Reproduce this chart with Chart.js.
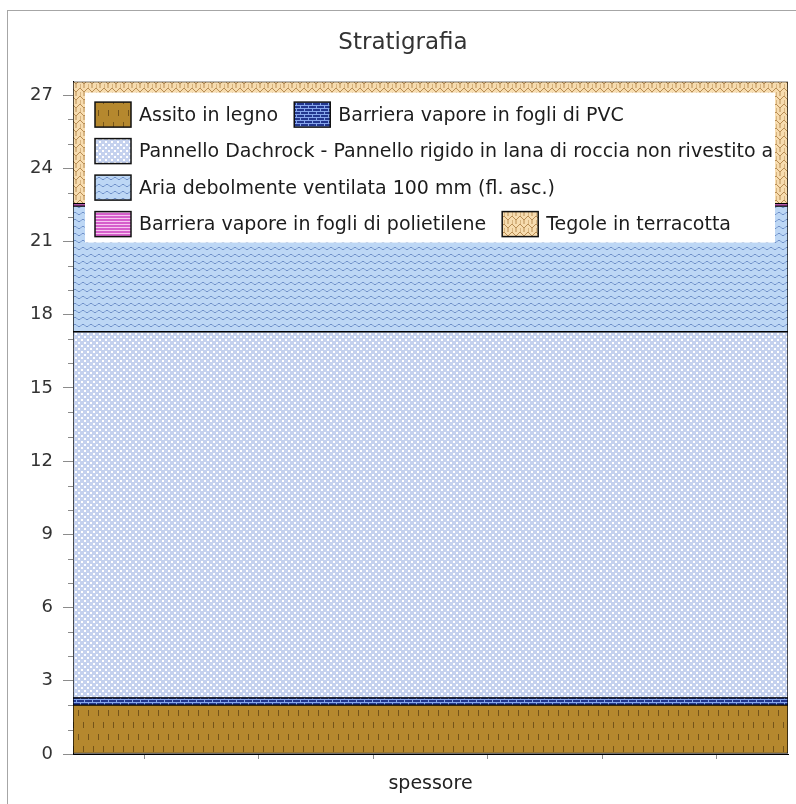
<!DOCTYPE html>
<html>
<head>
<meta charset="utf-8">
<script src="https://cdn.jsdelivr.net/npm/chart.js@4.4.1/dist/chart.umd.min.js"></script>
<style>
html,body{margin:0;padding:0;background:#fff;overflow:hidden;}
#wrap{position:relative;width:796px;height:804px;overflow:hidden;}
#frame{position:absolute;left:7px;top:10px;width:820px;height:820px;border:1px solid #a6a6a6;box-sizing:border-box;pointer-events:none;}
canvas{position:absolute;left:0;top:0;}
</style>
</head>
<body>
<div id="wrap"><canvas id="c" width="796" height="804"></canvas><div id="frame"></div></div>
<script>
// ---- data ----
const categories = ['spessore'];
const layerNames = [
  'Assito in legno',
  'Barriera vapore in fogli di PVC',
  'Pannello Dachrock - Pannello rigido in lana di roccia non rivestito a',
  'Aria debolmente ventilata 100 mm (fl. asc.)',
  'Barriera vapore in fogli di polietilene',
  'Tegole in terracotta'
];
const layerThickness = [2.0, 0.3, 15.0, 5.15, 0.1, 5.0];
const yTickStep = 3;
const xMarkValues = [0.5, 1.5, 2.5, 3.5, 4.5];
const chartTitle = 'Stratigrafia';

// ---- patterns ----
function makePattern(w, h, draw) {
  const c = document.createElement('canvas');
  c.width = w; c.height = h;
  const g = c.getContext('2d');
  draw(g, w, h);
  return g.createPattern(c, 'repeat');
}
const patAssito = makePattern(10, 24, (g, w, h) => {
  g.fillStyle = '#B5882E'; g.fillRect(0, 0, w, h);
  g.fillStyle = '#74541A';
  g.fillRect(3, 2, 1, 6);
  g.fillRect(8, 14, 1, 6);
});
const patPVC = makePattern(8, 6, (g, w, h) => {
  g.fillStyle = '#23378F'; g.fillRect(0, 0, w, h);
  g.fillStyle = '#86A6EC';
  g.fillRect(0, 0, w, 1);
  g.fillRect(0, 3, w, 1);
  g.fillRect(0, 0, 1, 3);
  g.fillRect(4, 3, 1, 3);
});
const patDachrock = makePattern(6, 6, (g, w, h) => {
  g.fillStyle = '#C4D1EE'; g.fillRect(0, 0, w, h);
  g.fillStyle = '#FFFFFF';
  g.fillRect(0, 0, 2, 2);
  g.fillRect(3, 3, 2, 2);
});
const patAria = makePattern(8, 7, (g, w, h) => {
  g.fillStyle = '#BDD7F5'; g.fillRect(0, 0, w, h);
  g.strokeStyle = '#6E8FC8'; g.lineWidth = 1;
  g.beginPath();
  g.moveTo(0, 4.5); g.lineTo(2, 2.5); g.lineTo(4, 2.5); g.lineTo(6, 4.5); g.lineTo(8, 4.5);
  g.stroke();
});
const patPoli = makePattern(4, 3, (g, w, h) => {
  g.fillStyle = '#D65FCB'; g.fillRect(0, 0, w, h);
  g.fillStyle = '#F6C8F1'; g.fillRect(0, 2, w, 1);
});
const patTegole = makePattern(8, 8, (g, w, h) => {
  g.fillStyle = '#F7DCAF'; g.fillRect(0, 0, w, h);
  g.strokeStyle = '#B98E55'; g.lineWidth = 1;
  g.beginPath();
  g.moveTo(0, 0); g.lineTo(4, 4); g.lineTo(8, 0);
  g.moveTo(4, 4); g.lineTo(4, 8);
  g.moveTo(0, 4); g.lineTo(0, 8);
  g.stroke();
});
const layerFills = [patAssito, patPVC, patDachrock, patAria, patPoli, patTegole];

const total = layerThickness.reduce((a, b) => a + b, 0);

// ---- plugins ----
const boxLegend = {
  id: 'boxLegend',
  afterDatasetsDraw(chart) {
    const ctx = chart.ctx, a = chart.chartArea;
    const bx = a.left + 12, by = a.top + 11, bw = (a.right - 13) - bx;
    const sw = 36, sh = 25, gapT = 8, gapI = 16, rowH = 36.5, first = 22;
    ctx.save();
    ctx.font = '19px "DejaVu Sans"';
    let x = bx + 10, row = 0;
    const items = [];
    chart.data.datasets.forEach(ds => {
      const w = sw + gapT + ctx.measureText(ds.label).width;
      if (x > bx + 10 && x + w > bx + bw) { row++; x = bx + 10; }
      items.push({ ds, x, row });
      x += w + gapI;
    });
    const bh = first + row * rowH + 18.5;
    ctx.fillStyle = '#ffffff';
    ctx.fillRect(bx, by, bw, bh);
    ctx.beginPath(); ctx.rect(bx, by, bw, bh); ctx.clip();
    items.forEach(it => {
      const cy = by + first + it.row * rowH;
      ctx.fillStyle = it.ds.backgroundColor;
      ctx.fillRect(it.x, cy - sh / 2, sw, sh);
      ctx.lineWidth = 1.5; ctx.strokeStyle = '#111';
      ctx.strokeRect(it.x, cy - sh / 2, sw, sh);
      ctx.fillStyle = '#1c1c1c';
      ctx.textBaseline = 'middle'; ctx.textAlign = 'left';
      ctx.fillText(it.ds.label, it.x + sw + gapT, cy + 1);
    });
    ctx.restore();
  }
};
const minorTicks = {
  id: 'minorTicks',
  afterDraw(chart) {
    const y = chart.scales.y, ctx = chart.ctx, left = chart.chartArea.left;
    ctx.save();
    ctx.strokeStyle = '#8c8c8c'; ctx.lineWidth = 1;
    for (let v = Math.ceil(y.min); v <= y.max; v++) {
      if (v % yTickStep === 0) continue;
      const py = Math.round(y.getPixelForValue(v)) + 0.5;
      ctx.beginPath(); ctx.moveTo(left - 5, py); ctx.lineTo(left, py); ctx.stroke();
    }
    ctx.restore();
  }
};

new Chart(document.getElementById('c'), {
  type: 'bar',
  data: {
    labels: categories,
    datasets: layerNames.map((name, i) => ({
      label: name,
      data: [layerThickness[i]],
      backgroundColor: layerFills[i],
      borderColor: '#000',
      borderWidth: 1,
      borderSkipped: false,
      categoryPercentage: 1,
      barPercentage: 1
    }))
  },
  plugins: [boxLegend, minorTicks],
  options: {
    responsive: false,
    animation: false,
    layout: { padding: { left: 18, right: 8, top: 10, bottom: 0 } },
    plugins: {
      legend: { display: false },
      tooltip: { enabled: false },
      title: {
        display: true,
        text: chartTitle,
        color: '#333',
        font: { family: 'DejaVu Sans', size: 23, weight: 'normal' },
        padding: { top: 19, bottom: 25 }
      }
    },
    scales: {
      x: {
        stacked: true,
        weight: 10,
        afterFit(scale) { scale.height = 45; },
        grid: { display: false, drawTicks: false },
        border: { display: false },
        ticks: { color: '#222', font: { family: 'DejaVu Sans', size: 19 }, padding: 14 }
      },
      xt: {
        type: 'linear',
        position: 'bottom',
        weight: 0,
        min: 0, max: 5,
        afterBuildTicks(scale) { scale.ticks = xMarkValues.map(v => ({ value: v })); },
        grid: { drawOnChartArea: false, tickLength: 5, tickColor: '#8c8c8c' },
        border: { display: true, color: '#000' },
        ticks: { display: false }
      },
      y: {
        stacked: true,
        min: 0,
        max: total,
        afterFit(scale) { scale.width = 55; },
        grid: { drawOnChartArea: false, tickLength: 10, tickColor: '#8c8c8c' },
        border: { display: true, color: '#000' },
        ticks: { stepSize: yTickStep, includeBounds: false, color: '#333', padding: 10, font: { family: 'DejaVu Sans', size: 18 } }
      }
    }
  }
});
</script>
</body>
</html>
